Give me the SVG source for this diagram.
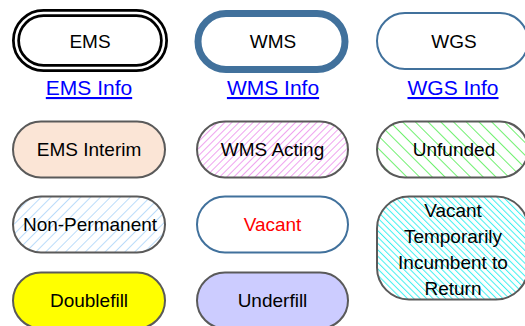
<svg xmlns="http://www.w3.org/2000/svg" width="525" height="326" viewBox="0 0 525 326">
<style>
text{font-family:"Liberation Sans",Arial,sans-serif;font-size:19px;fill:#000;text-anchor:middle}
.lnk{font-size:21px;fill:#0000ff;text-decoration:underline}
.g{stroke:#5a5a5a;stroke-width:2}
.b{stroke:#41719c;stroke-width:2}
</style>
<defs>
<pattern id="pPink" patternUnits="userSpaceOnUse" width="5" height="5" patternTransform="rotate(45)">
<rect width="5" height="5" fill="#fff"/><line x1="0" y1="0" x2="0" y2="5" stroke="#ee99ee" stroke-width="1.8"/>
</pattern>
<pattern id="pGreen" patternUnits="userSpaceOnUse" width="9" height="9" patternTransform="rotate(-45)">
<rect width="9" height="9" fill="#fff"/><line x1="0" y1="0" x2="0" y2="9" stroke="#70f070" stroke-width="2"/>
</pattern>
<pattern id="pBlue" patternUnits="userSpaceOnUse" width="7" height="7" patternTransform="rotate(45)">
<rect width="7" height="7" fill="#fff"/><line x1="0" y1="0" x2="0" y2="7" stroke="#b4d8fa" stroke-width="1.8"/>
</pattern>
<pattern id="pCyan" patternUnits="userSpaceOnUse" width="4.5" height="4.5" patternTransform="rotate(-45)">
<rect width="4.5" height="4.5" fill="#fff"/><line x1="0" y1="0" x2="0" y2="4.5" stroke="#3ff0f0" stroke-width="2"/>
</pattern>
</defs>
<g id="connectors"/>
<g id="ems">
<rect x="16" y="13" width="148" height="55" rx="27.5" fill="#fff" stroke="#000" stroke-width="8"/>
<rect x="16" y="13" width="148" height="55" rx="27.5" fill="none" stroke="#fff" stroke-width="2.5"/>
<text x="90" y="48">EMS</text>
</g>
<g id="ems-info"><text class="lnk" x="89" y="95">EMS Info</text></g>
<g id="wms">
<rect x="198" y="13.5" width="147" height="56" rx="28" fill="#fff" stroke="#41719c" stroke-width="7"/>
<text x="273" y="48">WMS</text>
</g>
<g id="wms-info"><text class="lnk" x="273" y="95">WMS Info</text></g>
<g id="wgs">
<rect class="b" x="377" y="13" width="151" height="56" rx="28" fill="#fff"/>
<text x="454" y="48">WGS</text>
</g>
<g id="wgs-info"><text class="lnk" x="453" y="95">WGS Info</text></g>
<g id="ems-interim">
<rect class="g" x="13" y="121.5" width="152" height="56" rx="28" fill="#fbe5d6"/>
<text x="89" y="156">EMS Interim</text>
</g>
<g id="wms-acting">
<rect class="g" x="197" y="121.5" width="151" height="56" rx="28" fill="url(#pPink)"/>
<text x="272.5" y="156">WMS Acting</text>
</g>
<g id="unfunded">
<rect class="g" x="377" y="121.5" width="151" height="56" rx="28" fill="url(#pGreen)"/>
<text x="454" y="156">Unfunded</text>
</g>
<g id="non-permanent">
<rect class="g" x="13" y="196.5" width="152" height="56" rx="28" fill="url(#pBlue)"/>
<text x="90" y="231">Non-Permanent</text>
</g>
<g id="vacant">
<rect class="b" x="197" y="196.5" width="151" height="56" rx="28" fill="#fff"/>
<text x="272.5" y="231" style="fill:#ff0000">Vacant</text>
</g>
<g id="vacant-temp">
<rect class="g" x="377" y="196.5" width="151" height="103" rx="32" fill="url(#pCyan)"/>
<text x="453" y="217">Vacant</text>
<text x="453" y="243">Temporarily</text>
<text x="453" y="269">Incumbent to</text>
<text x="453" y="295">Return</text>
</g>
<g id="doublefill">
<rect class="g" x="13" y="272.5" width="152" height="56" rx="28" fill="#ffff00"/>
<text x="89" y="307">Doublefill</text>
</g>
<g id="underfill">
<rect class="g" x="197" y="272.5" width="151" height="56" rx="28" fill="#ccccff"/>
<text x="272.5" y="307">Underfill</text>
</g>
</svg>
